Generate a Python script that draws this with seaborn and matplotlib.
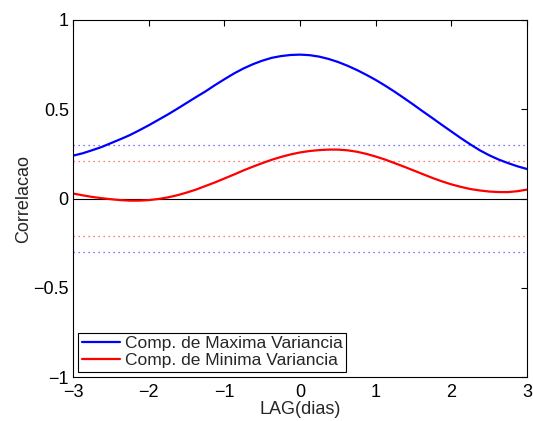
import matplotlib
matplotlib.use("Agg")
import matplotlib.pyplot as plt
import pandas as pd
import seaborn as sns

# lag values (days) and correlations
lags = [-3.0, -2.875, -2.75, -2.625, -2.5, -2.375, -2.25, -2.125, -2.0, -1.875, -1.75, -1.625,
        -1.5, -1.375, -1.25, -1.125, -1.0, -0.875, -0.75, -0.625, -0.5, -0.375, -0.25, -0.125,
        0.0, 0.125, 0.25, 0.375, 0.5, 0.625, 0.75, 0.875, 1.0, 1.125, 1.25, 1.375,
        1.5, 1.625, 1.75, 1.875, 2.0, 2.125, 2.25, 2.375, 2.5, 2.625, 2.75, 2.875, 3.0]
corr_max = [0.24, 0.253, 0.27, 0.288, 0.31, 0.332, 0.355, 0.382, 0.41, 0.44, 0.47, 0.502,
            0.535, 0.568, 0.60, 0.635, 0.668, 0.70, 0.728, 0.752, 0.772, 0.788, 0.798, 0.804,
            0.806, 0.803, 0.795, 0.782, 0.765, 0.744, 0.72, 0.693, 0.664, 0.632, 0.598, 0.562,
            0.525, 0.487, 0.45, 0.412, 0.375, 0.338, 0.303, 0.27, 0.242, 0.218, 0.198, 0.18, 0.165]
corr_min = [0.028, 0.018, 0.009, 0.002, -0.004, -0.009, -0.012, -0.012, -0.009, -0.003, 0.006, 0.018,
            0.033, 0.05, 0.07, 0.09, 0.112, 0.134, 0.157, 0.178, 0.198, 0.217, 0.233, 0.247,
            0.258, 0.266, 0.271, 0.274, 0.274, 0.27, 0.262, 0.25, 0.235, 0.218, 0.198, 0.178,
            0.157, 0.136, 0.115, 0.096, 0.079, 0.065, 0.053, 0.045, 0.039, 0.036, 0.036, 0.041, 0.05]
labels = ["Comp. de Maxima Variancia", "Comp. de Minima Variancia"]
sig_max = 0.30
sig_min = 0.21

sns.set_style("white")
plt.rcParams["font.family"] = ["Liberation Sans", "DejaVu Sans"]

df = pd.concat([
    pd.DataFrame({"lag": lags, "corr": corr_max, "serie": labels[0]}),
    pd.DataFrame({"lag": lags, "corr": corr_min, "serie": labels[1]}),
])

fig = plt.figure(figsize=(5.33, 4.21), dpi=100)
ax = fig.add_axes([0.137, 0.1045, 0.852, 0.848])

# significance levels
for lvl, col in [(sig_max, "#4d4dff"), (-sig_max, "#4d4dff"), (sig_min, "#ff4d4d"), (-sig_min, "#ff4d4d")]:
    ax.axhline(lvl, color=col, ls=(0, (1, 3)), lw=0.9)
ax.axhline(0, color="black", lw=0.8)

sns.lineplot(data=df, x="lag", y="corr", hue="serie", palette=["#0000ff", "#ff0000"],
             linewidth=1.6, ax=ax)

ax.set_xlim(-3, 3)
ax.set_ylim(-1, 1)
ax.set_xticks([-3, -2, -1, 0, 1, 2, 3])
ax.set_yticks([-1, -0.5, 0, 0.5, 1])
ax.set_yticklabels(["\u22121", "\u22120.5", "0", "0.5", "1"])
ax.set_xticklabels(["\u22123", "\u22122", "\u22121", "0", "1", "2", "3"])
ax.tick_params(direction="in", length=4, width=0.8, top=True, right=True,
               labelsize=13, colors="black")
ax.tick_params(axis="x", pad=5)
ax.tick_params(axis="y", pad=3)
for s in ax.spines.values():
    s.set_color("black")
    s.set_linewidth(0.8)
ax.set_xlabel("LAG(dias)", fontsize=13, labelpad=0)
ax.set_ylabel("Correlacao", fontsize=13, labelpad=1)

leg = ax.legend(loc="lower left", fontsize=12.5, frameon=True, fancybox=False,
                borderaxespad=0.3, handlelength=2.2, handletextpad=0.3,
                borderpad=0.2, labelspacing=0.1)
leg.get_frame().set_edgecolor("black")
leg.get_frame().set_linewidth(0.8)
leg.get_frame().set_alpha(1)
leg.set_title(None)

fig.savefig("out.png", dpi=100)
